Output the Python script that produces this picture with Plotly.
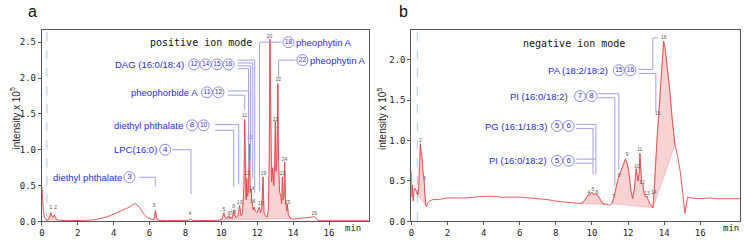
import plotly.graph_objects as go

# ---------------- panel a : positive ion mode ----------------
pos_time = [0.0, 0.03, 0.08, 0.15, 0.25, 0.35, 0.42, 0.5, 0.56, 0.62, 0.7, 0.76, 0.85, 1.0, 1.5, 2.0, 2.5,
            3.0, 3.3, 3.6, 3.9, 4.2, 4.5, 4.8, 5.0, 5.1, 5.2, 5.3, 5.45, 5.6, 5.75, 5.9, 6.05, 6.2, 6.28,
            6.33, 6.38, 6.5, 7.0, 7.5, 8.0, 8.2, 8.3, 8.4, 8.6, 9.0, 9.5, 9.9, 10.05, 10.14, 10.22, 10.32,
            10.42, 10.48, 10.53, 10.6, 10.69, 10.72, 10.75, 10.82, 10.92, 11.02, 11.1, 11.18, 11.26, 11.30,
            11.34, 11.38, 11.42, 11.46, 11.50, 11.54, 11.57, 11.61, 11.66, 11.69, 11.72, 11.77, 11.82, 11.9,
            11.98, 12.05, 12.12, 12.18, 12.25, 12.32, 12.38, 12.45, 12.55, 12.62, 12.67, 12.71, 12.75, 12.8,
            12.86, 12.92, 12.97, 13.01, 13.05, 13.1, 13.15, 13.19, 13.25, 13.32, 13.36, 13.40, 13.45, 13.49,
            13.53, 13.58, 13.64, 13.68, 13.73, 13.85, 14.0, 14.3, 14.6, 14.9, 15.1, 15.2, 15.35, 15.5, 16.0,
            17.0, 18.2]
pos_intensity = [0.48, 0.40, 0.15, 0.05, 0.02, 0.02, 0.06, 0.12, 0.07, 0.06, 0.09, 0.05, 0.02, 0.015, 0.01,
                 0.01, 0.015, 0.025, 0.04, 0.06, 0.09, 0.12, 0.15, 0.19, 0.22, 0.24, 0.25, 0.23, 0.19, 0.13,
                 0.08, 0.05, 0.03, 0.02, 0.06, 0.15, 0.05, 0.015, 0.01, 0.01, 0.01, 0.015, 0.035, 0.015, 0.01,
                 0.01, 0.01, 0.015, 0.04, 0.12, 0.05, 0.04, 0.08, 0.04, 0.06, 0.04, 0.16, 0.08, 0.09, 0.05,
                 0.07, 0.22, 0.08, 0.12, 0.5, 1.42, 0.45, 0.3, 0.6, 0.35, 0.4, 0.7, 1.08, 0.4, 0.45, 0.3, 0.26,
                 0.16, 0.2, 0.14, 0.12, 0.15, 0.2, 0.12, 0.15, 0.62, 0.12, 0.08, 0.06, 0.15, 0.9, 2.54, 1.1,
                 0.55, 0.75, 0.5, 0.8, 1.40, 0.7, 0.9, 1.92, 0.8, 0.4, 0.35, 0.25, 0.62, 0.3, 0.35, 0.83, 0.3,
                 0.15, 0.24, 0.1, 0.04, 0.03, 0.04, 0.05, 0.055, 0.06, 0.065, 0.02, 0.01, 0.008, 0.008, 0.008]
pos_fill_ranges = [(0.35, 0.85), (6.2, 6.5), (9.9, 13.85)]
pos_peak_ids = [1, 2, 3, 4, 5, 6, 7, 8, 9, 10, 11, 12, 15, 14, 16, 18, 19, 20, 21, 22, 23, 24, 25, 26]
pos_peak_time = [0.5, 0.77, 6.26, 8.25, 10.14, 10.42, 10.53, 10.69, 10.75, 11.02, 11.30, 11.45, 11.58, 11.69,
                 11.75, 12.19, 12.35, 12.69, 13.02, 13.19, 13.41, 13.52, 13.68, 15.18]
pos_peak_label_y = [0.19, 0.19, 0.22, 0.10, 0.16, 0.11, 0.10, 0.20, 0.12, 0.26, 1.48, 0.66, 1.17, 0.46, 0.27,
                    0.25, 0.66, 2.58, 1.42, 1.97, 0.66, 0.86, 0.26, 0.11]

# ---------------- panel b : negative ion mode ----------------
neg_time = [0.0, 0.03, 0.06, 0.1, 0.15, 0.2, 0.25, 0.3, 0.35, 0.4, 0.45, 0.5, 0.55, 0.6, 0.65, 0.7, 0.75, 0.8,
            0.85, 0.9, 1.0, 1.2, 1.5, 2.0, 2.5, 3.0, 3.5, 4.0, 4.5, 5.0, 5.5, 6.0, 6.5, 7.0, 7.5, 8.0, 8.5,
            9.0, 9.4, 9.6, 9.8, 9.9, 10.0, 10.1, 10.2, 10.3, 10.45, 10.6, 10.8, 11.0, 11.1, 11.2, 11.3, 11.45,
            11.6, 11.75, 11.85, 11.95, 12.05, 12.15, 12.25, 12.35, 12.45, 12.55, 12.62, 12.66, 12.7, 12.75,
            12.82, 12.9, 13.0, 13.05, 13.12, 13.2, 13.3, 13.38, 13.45, 13.52, 13.6, 13.7, 13.8, 13.9, 13.97,
            14.05, 14.15, 14.3, 14.45, 14.6, 14.75, 14.9, 15.0, 15.1, 15.15, 15.22, 15.3, 15.5, 16.0, 16.5,
            17.0, 17.5, 18.2]
neg_intensity = [0.62, 0.3, 0.45, 0.25, 0.38, 0.41, 0.38, 0.36, 0.33, 0.37, 0.6, 0.96, 0.85, 0.78, 0.6, 0.53,
                 0.35, 0.2, 0.18, 0.22, 0.25, 0.27, 0.27, 0.29, 0.29, 0.29, 0.30, 0.31, 0.31, 0.30, 0.30, 0.30,
                 0.29, 0.28, 0.27, 0.25, 0.24, 0.23, 0.22, 0.26, 0.33, 0.33, 0.36, 0.33, 0.34, 0.33, 0.27, 0.22,
                 0.21, 0.2, 0.22, 0.28, 0.38, 0.53, 0.62, 0.72, 0.77, 0.72, 0.6, 0.4, 0.28, 0.4, 0.65, 0.5, 0.6,
                 0.84, 0.6, 0.48, 0.46, 0.33, 0.3, 0.31, 0.26, 0.22, 0.2, 0.17, 0.38, 0.7, 1.0, 1.32, 1.7, 2.05,
                 2.23, 2.15, 1.95, 1.65, 1.25, 0.95, 0.8, 0.6, 0.41, 0.2, 0.1, 0.2, 0.3, 0.29, 0.28, 0.29, 0.28,
                 0.28, 0.28]
neg_fill_ranges = [(0.35, 0.85), (9.4, 10.8), (11.1, 13.38), (13.38, 14.6)]
neg_peak_ids = [1, 2, 3, 4, 5, 6, 7, 8, 9, 10, 11, 12, 13, 14, 15, 16]
neg_peak_time = [0.33, 0.5, 0.72, 9.83, 10.05, 10.28, 11.2, 11.5, 11.93, 12.5, 12.65, 12.77, 13.05, 13.43,
                 13.65, 13.98]
neg_peak_label_y = [0.35, 1.0, 0.53, 0.35, 0.39, 0.36, 0.30, 0.57, 0.83, 0.68, 0.88, 0.48, 0.34, 0.36, 1.33,
                    2.27]

void_time = [0.28, 0.33]

# ---------------- compound annotations ----------------
pos_names = ["diethyl phthalate", "LPC(16:0)", "diethyl phthalate", "pheophorbide A", "DAG (16:0/18:4)",
             "pheophytin A", "pheophytin A"]
pos_numbers = [[3], [4], [8, 10], [11, 12], [12, 14, 15, 16], [18], [22]]
neg_names = ["PA (18:2/18:2)", "PI (16:0/18:2)", "PG (16:1/18:3)", "PI (16:0/18:2)"]
neg_numbers = [[15, 16], [7, 8], [5, 6], [5, 6]]

# label anchor positions (x in min, y in intensity units), side of text
pos_label_pos = [(4.54, 0.615, "r"), (6.48, 1.0, "r"), (7.92, 1.34, "r"), (8.75, 1.80, "r"),
                 (7.98, 2.19, "r"), (14.13, 2.5, "l"), (14.9, 2.25, "l")]
pos_circle_start = [4.88, 6.87, 8.37, 9.2, 8.48, 13.74, 14.52]
neg_label_pos = [(10.94, 1.87, "r"), (8.73, 1.55, "r"), (7.57, 1.18, "r"), (7.57, 0.75, "r")]
neg_circle_start = [11.49, 9.34, 8.07, 8.07]

pos_leaders = [
    [(5.43, 0.615), (6.32, 0.615), (6.32, 0.49)],
    [(7.26, 1.0), (8.31, 1.0), (8.31, 0.38)],
    [(9.64, 1.27), (10.69, 1.27), (10.69, 0.48)],
    [(9.64, 1.35), (10.97, 1.35), (10.97, 0.52)],
    [(10.36, 1.76), (11.30, 1.76), (11.30, 1.55)],
    [(10.36, 1.82), (11.52, 1.82), (11.52, 0.77)],
    [(10.91, 2.25), (11.86, 2.25), (11.86, 0.40)],
    [(10.91, 2.21), (11.75, 2.21), (11.75, 0.60)],
    [(10.91, 2.17), (11.63, 2.17), (11.63, 0.85)],
    [(10.91, 2.13), (11.52, 2.13), (11.52, 0.77)],
    [(13.35, 2.5), (12.13, 2.5), (12.13, 0.42)],
    [(14.13, 2.25), (13.19, 2.25), (13.19, 1.99)],
]
neg_leaders = [
    [(12.6, 1.88), (13.37, 1.88), (13.37, 2.27), (13.65, 2.27)],
    [(12.6, 1.83), (13.54, 1.83), (13.54, 1.35)],
    [(10.33, 1.58), (11.49, 1.58), (11.49, 0.64)],
    [(10.33, 1.53), (11.27, 1.53), (11.27, 0.44)],
    [(9.12, 1.20), (10.22, 1.20), (10.22, 0.58)],
    [(9.12, 1.15), (10.06, 1.15), (10.06, 0.58)],
    [(9.12, 0.77), (10.22, 0.77)],
    [(9.12, 0.72), (10.06, 0.72)],
]

# ---------------- styling ----------------
LINE_RED = "#e0474c"
FILL_PINK = "rgba(238,120,125,0.33)"
BLUE_TXT = "#2b2be6"
LEADER = "#a0a0e6"
CIRCLE = "#8c8ce6"
MONO = "DejaVu Sans Mono"
SANS = "Liberation Sans"
W, H = 744, 243
CIRC_SP = 0.64

fig = go.Figure()


def fill_polys(t, y, ranges, xa, ya):
    for t0, t1 in ranges:
        idx = [i for i, v in enumerate(t) if t0 <= v <= t1]
        st = [t[i] for i in idx]
        sy = [y[i] for i in idx]
        xs = st + [st[-1], st[0]]
        ys = sy + [sy[-1], sy[0]]
        fig.add_trace(go.Scatter(x=xs, y=ys, fill="toself", fillcolor=FILL_PINK, mode="lines",
                                 line=dict(width=0.6, color="rgba(230,110,110,0.6)"),
                                 hoverinfo="skip", showlegend=False, xaxis=xa, yaxis=ya))


def panel(t, y, ranges, pid, ptime, plab, names, numbers, lpos, cstart, leaders, xa, ya):
    fill_polys(t, y, ranges, xa, ya)
    fig.add_trace(go.Scatter(x=t, y=y, mode="lines", line=dict(color=LINE_RED, width=0.9),
                             hoverinfo="skip", showlegend=False, xaxis=xa, yaxis=ya))
    fig.add_trace(go.Scatter(x=ptime, y=plab, mode="text", text=[str(i) for i in pid],
                             textfont=dict(size=5, color="#555555", family=SANS),
                             hoverinfo="skip", showlegend=False, xaxis=xa, yaxis=ya, cliponaxis=False))
    for seg in leaders:
        fig.add_trace(go.Scatter(x=[p[0] for p in seg], y=[p[1] for p in seg], mode="lines",
                                 line=dict(color=LEADER, width=1), hoverinfo="skip", showlegend=False,
                                 xaxis=xa, yaxis=ya))
    axref = "x" if xa == "x" else "x2"
    ayref = "y" if ya == "y" else "y2"
    for name, nums, (lx, ly, side), cs in zip(names, numbers, lpos, cstart):
        fig.add_annotation(x=lx, y=ly, xref=axref, yref=ayref, text=name, showarrow=False,
                           xanchor="right" if side == "r" else "left", yanchor="middle",
                           font=dict(family=SANS, size=9.5, color=BLUE_TXT), borderpad=0)
        cx = [cs + k * CIRC_SP for k in range(len(nums))]
        fig.add_trace(go.Scatter(x=cx, y=[ly] * len(nums), mode="markers+text",
                                 text=[str(n) for n in nums], textposition="middle center",
                                 textfont=dict(size=[8 if n < 10 else 6.5 for n in nums], color=BLUE_TXT,
                                               family=SANS),
                                 marker=dict(symbol="circle-open", size=11, color=CIRCLE,
                                             line=dict(width=1, color=CIRCLE)),
                                 hoverinfo="skip", showlegend=False, xaxis=xa, yaxis=ya, cliponaxis=False))


panel(pos_time, pos_intensity, pos_fill_ranges, pos_peak_ids, pos_peak_time, pos_peak_label_y,
      pos_names, pos_numbers, pos_label_pos, pos_circle_start, pos_leaders, "x", "y")
panel(neg_time, neg_intensity, neg_fill_ranges, neg_peak_ids, neg_peak_time, neg_peak_label_y,
      neg_names, neg_numbers, neg_label_pos, neg_circle_start, neg_leaders, "x2", "y2")

# void volume dashed lines
for vt, xr, yr in zip(void_time, ["x", "x2"], ["y domain", "y2 domain"]):
    fig.add_shape(type="line", x0=vt, x1=vt, y0=0, y1=1, xref=xr, yref=yr,
                  line=dict(color="#a8c8e0", width=1, dash="dash"), layer="below")

ya_dom = [17 / H, 212 / H]
axis_common = dict(showline=True, linecolor="#555555", linewidth=1, mirror=True, ticks="outside",
                   ticklen=3, tickcolor="#555555", showgrid=False, zeroline=False,
                   tickfont=dict(family=MONO, size=9, color="#222222"))
fig.update_layout(
    width=W, height=H, margin=dict(l=0, r=0, t=0, b=0), paper_bgcolor="white", plot_bgcolor="white",
    xaxis=dict(domain=[39 / W, 367 / W], range=[0, 18.2], tickvals=list(range(0, 17, 2)),
               anchor="y", **axis_common),
    yaxis=dict(domain=ya_dom, range=[0, 2.665], tickvals=[0, 0.5, 1, 1.5, 2, 2.5], tickformat=".1f",
               anchor="x", **axis_common),
    xaxis2=dict(domain=[410 / W, 740 / W], range=[0, 18.2], tickvals=list(range(0, 17, 2)),
                anchor="y2", **axis_common),
    yaxis2=dict(domain=ya_dom, range=[0, 2.364], tickvals=[0, 0.5, 1, 1.5, 2], tickformat=".1f",
                anchor="x2", **axis_common),
)

# text annotations: mode titles, axis titles, panel letters, "min"
fig.add_annotation(x=8.86, y=2.5, xref="x", yref="y", text="positive ion mode", showarrow=False,
                   xanchor="center", yanchor="middle",
                   font=dict(family=MONO, size=10, color="#111111"))
fig.add_annotation(x=9.0, y=2.2, xref="x2", yref="y2", text="negative ion mode", showarrow=False,
                   xanchor="center", yanchor="middle",
                   font=dict(family=MONO, size=10, color="#111111"))
for px, letter in [(30, "a"), (402, "b")]:
    fig.add_annotation(x=px / W, y=1 - 12 / H, xref="paper", yref="paper", text=letter, showarrow=False,
                       xanchor="center", yanchor="middle",
                       font=dict(family=SANS, size=16, color="#111111"))
for px in [12, 380]:
    fig.add_annotation(x=px / W, y=1 - 121 / H, xref="paper", yref="paper",
                       text="intensity x 10<sup>5</sup>", textangle=-90, showarrow=False,
                       xanchor="center", yanchor="middle",
                       font=dict(family=SANS, size=10, color="#222222"))
for xr, xv in [("x", 17.35), ("x2", 17.7)]:
    fig.add_annotation(x=xv, y=1 - 233 / H, xref=xr, yref="paper", text="min", showarrow=False,
                       xanchor="center", yanchor="middle",
                       font=dict(family=MONO, size=9, color="#222222"))

fig.write_html("out.html")
